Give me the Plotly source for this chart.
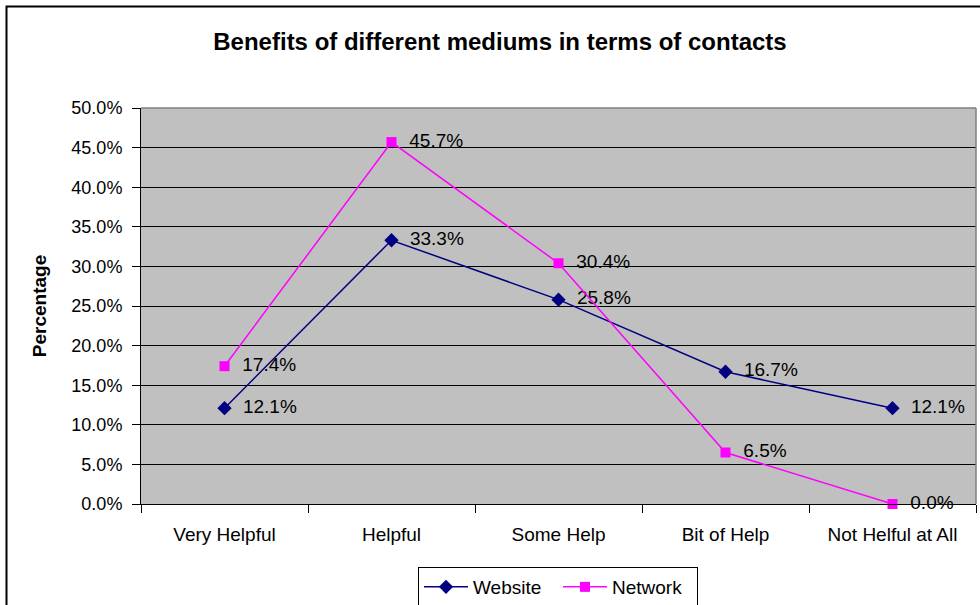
import plotly.graph_objects as go

categories = ["Very Helpful", "Helpful", "Some Help", "Bit of Help", "Not Helful at All"]
website = [12.1, 33.3, 25.8, 16.7, 12.1]
network = [17.4, 45.7, 30.4, 6.5, 0.0]
y_ticks = [0, 5, 10, 15, 20, 25, 30, 35, 40, 45, 50]
y_tick_labels = [f"{v:.1f}%" for v in y_ticks]

FONT = "Liberation Sans, Arial, sans-serif"

fig = go.Figure()
fig.add_trace(go.Scatter(
    x=categories, y=website, name="Website", mode="lines+markers+text",
    line=dict(color="#000080", width=1.5),
    marker=dict(symbol="diamond", size=11, color="#000080"),
    text=[f"  {v:.1f}%" for v in website], textposition="middle right",
    textfont=dict(family=FONT, size=19, color="black"),
    cliponaxis=False,
))
fig.add_trace(go.Scatter(
    x=categories, y=network, name="Network", mode="lines+markers+text",
    line=dict(color="#FF00FF", width=1.5),
    marker=dict(symbol="square", size=10, color="#FF00FF"),
    text=[f"  {v:.1f}%" for v in network], textposition="middle right",
    textfont=dict(family=FONT, size=19, color="black"),
    cliponaxis=False,
))

L, R, T, B = 141, 976, 108, 504
W, H = 980, 605
pw, ph = R - L, B - T


def px(x):
    return (x - L) / pw


def py(y):
    return (B - y) / ph


fig.update_layout(
    width=W, height=H,
    margin=dict(l=L, r=W - R, t=T, b=H - B, pad=0, autoexpand=False),
    paper_bgcolor="white", plot_bgcolor="#C0C0C0",
    font=dict(family=FONT, size=17, color="black"),
    title=dict(text="<b>Benefits of different mediums in terms of contacts</b>",
               x=500 / W, xanchor="center", y=1 - 42 / H, yanchor="middle",
               font=dict(family=FONT, size=24, color="black")),
    showlegend=True,
    legend=dict(orientation="h", x=px(418), xanchor="left", y=py(567), yanchor="top",
                bordercolor="black", borderwidth=1, bgcolor="white",
                font=dict(family=FONT, size=19, color="black"),
                itemwidth=44, entrywidth=80, traceorder="normal"),
    xaxis=dict(
        type="category", tickson="boundaries", ticks="outside", ticklen=8,
        tickcolor="black", showgrid=False, showline=True, linecolor="black",
        linewidth=1, mirror=False, range=[-0.5, 4.5], automargin=False,
        tickfont=dict(family=FONT, size=19, color="black"),
        ticklabelstandoff=13,
    ),
    yaxis=dict(
        range=[0, 50], tickvals=y_ticks, ticktext=y_tick_labels,
        ticks="outside", ticklen=8, tickcolor="black",
        showgrid=True, gridcolor="black", gridwidth=1, automargin=False,
        showline=True, linecolor="black", linewidth=1, zeroline=False,
        tickfont=dict(family=FONT, size=18, color="black"),
        ticklabelstandoff=6,
        title=dict(text="<b>Percentage</b>", font=dict(family=FONT, size=19, color="black"),
                   standoff=19),
    ),
)

# plot-area outline on the top and right
fig.add_shape(type="line", xref="paper", yref="paper", x0=0, x1=1, y0=1, y1=1,
              line=dict(color="#808080", width=1.5))
fig.add_shape(type="line", xref="paper", yref="paper", x0=1, x1=1, y0=0, y1=1,
              line=dict(color="#808080", width=1.5))
# chart frame (runs past the right and bottom edges of the page)
fig.add_shape(type="rect", xref="paper", yref="paper",
              x0=px(6.5), x1=px(985), y0=py(610), y1=py(6.5),
              line=dict(color="black", width=2), layer="below")

fig.write_html("out.html")
